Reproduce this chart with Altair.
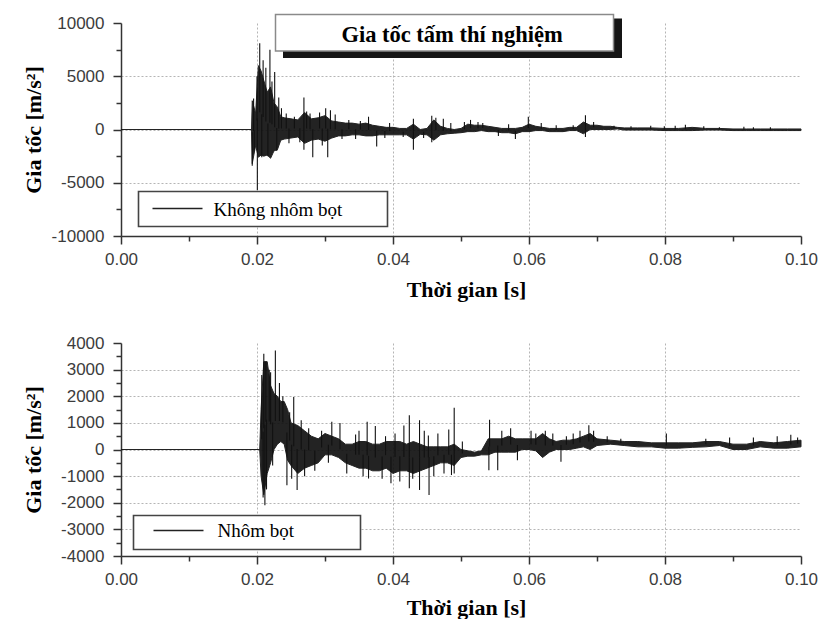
import altair as alt
import pandas as pd
import numpy as np

# ---------------- data ----------------
# Upper panel: "Không nhôm bọt" (envelope of the signal, time in ms, accel in m/s^2)
top_t_ms = [0, 19.2, 19.3, 19.8, 20.2, 20.6, 21.0, 21.5, 22.0, 22.5, 23.0, 23.5, 24.0, 25.0,
            26.0, 27.0, 28.0, 29.0, 30.0, 31.0, 32.0, 33.0, 34.0, 35.0, 36.0, 37.0, 38.0,
            39.0, 40.0, 41.0, 42.0, 43.0, 44.0, 45.0, 46.0, 47.0, 48.0, 49.0, 50.0, 51.0,
            52.0, 53.0, 54.0, 55.0, 56.0, 57.0, 58.0, 59.0, 60.0, 61.0, 62.0, 63.0, 64.0,
            65.0, 66.0, 67.0, 68.0, 69.0, 70.0, 71.0, 72.0, 73.0, 74.0, 76.0, 78.0, 80.0,
            82.0, 84.0, 86.0, 88.0, 90.0, 92.0, 94.0, 96.0, 98.0, 100.0]
top_hi = [0, 0, 2700, 1500, 6000, 5500, 4600, 3500, 4000, 2500, 2100, 1200, 1100, 1000,
          900, 1600, 1000, 1100, 1300, 800, 700, 600, 600, 500, 600, 400, 300,
          200, 200, 100, 100, 500, 0, 100, 900, 300, 100, 0, 100, 500,
          400, 400, 300, 200, 100, 100, 100, 200, 500, 300, 200, 100, 100,
          100, 200, 200, 700, 400, 400, 300, 300, 200, 150, 150, 150, 100,
          100, 200, 100, 100, 50, 50, 50, 50, 50, 50]
top_lo = [0, 0, -3200, -1500, -2600, -2400, -2500, -2400, -2700, -2000, -1900, -1000, -900, -800,
          -700, -1300, -1000, -900, -1100, -800, -600, -600, -500, -500, -600, -600, -500,
          -500, -500, -500, -500, -900, -450, -500, -1000, -500, -400, -350, -300, -200,
          -200, -100, -200, -200, -300, -300, -400, -200, -200, -100, -100, -200, -200,
          -200, -100, -100, -400, 0, 0, 0, 0, 50, -50, -50, -50, -100,
          -100, -100, -50, -50, -100, -100, -100, -100, -100, -100]
top_spike_t_ms = [19.3, 19.5, 19.6, 20.0, 20.05, 20.4, 20.7, 20.9, 21.3, 21.6, 21.9, 22.2,
                  22.6, 22.9, 23.2, 23.6, 24.3, 24.7, 25.5, 26.3, 26.9, 26.9, 27.3, 27.8,
                  28.2, 29.2, 29.6, 30.1, 30.4, 30.8, 31.5, 32.5, 33.5, 34.5, 35.2, 36.4,
                  37.6, 38.8, 39.5, 41.5, 43.0, 43.0, 44.5, 45.7, 45.7, 46.3, 47.4, 48.5,
                  50.5, 51.4, 52.5, 53.2, 55.5, 57.0, 58.0, 59.9, 61.8, 64.0, 66.5, 68.3,
                  68.3, 69.5, 72.5, 75.0, 77.9, 79.9, 81.5, 83.0, 85.7, 88.0, 91.6, 93.0,
                  95.5]
top_spike_v = [-3400, 2900, -2000, 5000, -5700, 8100, -2600, 6500, 5800, -2500, 7500, 4500,
               5400, -2000, 3000, 2000, 1500, -1300, 1200, -1200, 3000, -1900, 1700, 1500,
               -2600, 1600, -1500, 2000, -2600, 1800, 1400, -900, 900, -900, 800, 1200,
               -1600, -800, 600, -700, 1000, -1900, -800, 1300, -1200, 1100, 1000, 600,
               700, 900, 700, 600, -600, 500, -900, 1200, 600, 400, 400, 1340,
               -700, 700, 350, 300, 350, 300, 350, 450, 300, 200, 250, 200,
               200]

# Lower panel: "Nhôm bọt"
bot_t_ms = [0, 20.4, 20.6, 21.0, 21.5, 22.0, 22.5, 23.0, 23.5, 24.0, 24.5, 25.0, 26.0, 27.0,
            28.0, 29.0, 30.0, 31.0, 32.0, 33.0, 34.0, 35.0, 36.0, 37.0, 38.0, 39.0, 40.0,
            41.0, 42.0, 43.0, 44.0, 45.0, 46.0, 47.0, 48.0, 49.0, 50.0, 51.0, 52.0, 53.0,
            54.0, 55.0, 56.0, 57.0, 58.0, 59.0, 60.0, 61.0, 62.0, 63.0, 64.0, 65.0, 66.0,
            67.0, 68.0, 69.0, 70.0, 72.0, 74.0, 76.0, 78.0, 80.0, 82.0, 84.0, 86.0, 88.0,
            90.0, 92.0, 94.0, 96.0, 98.0, 100.0]
bot_hi = [0, 0, 1500, 3300, 3300, 2400, 2100, 2000, 1800, 1800, 1500, 1000, 900, 700,
          500, 400, 600, 500, 400, 200, 200, 300, 300, 200, 200, 300, 300,
          300, 200, 300, 200, 100, 100, 100, 100, 200, 0, -50, -100, -50,
          400, 400, 400, 500, 400, 400, 400, 400, 600, 400, 300, 350, 350,
          400, 500, 600, 400, 350, 300, 300, 250, 250, 250, 250, 300, 300,
          200, 200, 300, 250, 300, 350]
bot_lo = [0, 0, -1000, -1700, -900, -500, 0, 200, 300, 200, -400, -600, -900, -700,
          -600, -500, -200, -200, -300, -500, -600, -700, -700, -800, -800, -700, -900,
          -800, -800, -900, -800, -700, -600, -500, -500, -600, -300, -250, -250, -200,
          -200, -100, -100, -100, -100, 0, 0, -50, -300, -100, 0, 0, 0,
          50, 100, 0, 150, 200, 150, 100, 100, 50, 50, 80, 100, 150,
          0, 0, 100, 50, 50, 100]
bot_spike_t_ms = [20.7, 20.9, 21.0, 21.16, 21.3, 21.4, 21.8, 22.0, 22.3, 22.7, 23.3, 23.8,
                  24.4, 24.8, 25.1, 25.4, 25.9, 26.5, 27.0, 27.6, 28.5, 29.5, 30.5, 31.0,
                  32.2, 33.2, 34.5, 35.0, 35.6, 36.2, 36.4, 37.4, 38.4, 38.9, 39.7, 40.3,
                  41.0, 41.6, 42.4, 42.4, 42.9, 43.9, 43.9, 44.6, 45.2, 45.3, 46.0, 46.6,
                  47.5, 48.2, 48.6, 49.0, 49.0, 50.2, 54.1, 54.2, 55.4, 56.0, 57.3, 58.3,
                  60.3, 61.0, 62.4, 63.5, 64.7, 65.5, 66.5, 67.5, 68.8, 69.5, 71.5, 73.5,
                  80.2, 86.0, 89.5, 93.0, 96.5, 98.5, 99.5]
bot_spike_v = [2800, -1800, 3600, -2090, 3300, -1500, 3000, 2900, -600, 3720, 2500, 2000,
               -1340, 1400, -1100, 1970, -1520, 1100, -1000, 800, -800, 700, -500, 1040,
               1000, -900, 560, 700, -1000, 1040, -1090, 880, -1100, 500, -1270, 600,
               -1200, 900, 1290, -1460, -1100, 1100, -1520, 700, 530, -1710, -1000, 600,
               -900, 750, -960, 1570, -900, 300, -780, 1120, -780, 700, 800, -400,
               700, 600, 700, 600, -460, 500, 600, 700, 910, 700, 500, 400,
               600, 400, 450, 450, 500, 550, 450]

x_ticks = [0, 0.01, 0.02, 0.03, 0.04, 0.05, 0.06, 0.07, 0.08, 0.09, 0.10]
top_y_ticks = list(range(-10000, 10001, 2500))
bot_y_ticks = list(range(-4000, 4001, 500))

title_text = "Gia tốc tấm thí nghiệm"
x_title = "Thời gian [s]"
y_title = "Gia tốc [m/s²]"
top_legend = "Không nhôm bọt"
bot_legend = "Nhôm bọt"

# ---------------- styling ----------------
W, H = 680, 213
AX = "#333333"
LAB = "#3c3c3c"
SIG = "#111111"


def band_df(t_ms, hi, lo):
    return pd.DataFrame({"t": np.array(t_ms) / 1000.0, "hi": hi, "lo": lo})


def spike_df(st_ms, sv, t_ms, hi, lo):
    mid = (np.array(hi) + np.array(lo)) / 2.0
    base = np.interp(st_ms, t_ms, mid)
    return pd.DataFrame({"t": np.array(st_ms) / 1000.0, "hi": sv, "lo": base})


def x_axis(title_y):
    return alt.Axis(
        values=x_ticks,
        labelExpr="round(datum.value*100) % 2 == 0 ? format(datum.value, '.2f') : ''",
        title=x_title, titleFont="Liberation Serif", titleFontSize=22, titleFontWeight="bold",
        titleColor="#000", titleX=345, titleY=title_y, titleBaseline="alphabetic",
        titleAlign="center",
        labelFont="Liberation Sans", labelFontSize=17, labelColor=LAB, labelPadding=7,
        labelFlush=False, labelOverlap=False, labelBound=False,
        domainColor=AX, domainWidth=1.5, tickColor=AX, tickWidth=1.5,
        tickSize={"condition": {"test": "round(datum.value*100) % 2 == 1", "value": 5}, "value": 8},
        grid=True, gridColor="#b5b5b5", gridDash=[2, 2], gridWidth=1,
        gridOpacity={"condition": {"test": "round(datum.value*100) % 2 == 1 || datum.value < 0.005 || datum.value > 0.095", "value": 0}, "value": 1},
    )


def y_axis(ticks, major, extreme):
    return alt.Axis(
        values=ticks,
        labelExpr=f"datum.value % {major} == 0 ? '' + datum.value : ''",
        title=y_title, titleFont="Liberation Serif", titleFontSize=22, titleFontWeight="bold",
        titleColor="#000", titleX=-88, titleY=H / 2, titleAngle=270, titleBaseline="middle",
        titleAlign="center",
        labelFont="Liberation Sans", labelFontSize=17, labelColor=LAB, labelPadding=9,
        labelOverlap=False, labelBound=False, labelFlush=False,
        domainColor=AX, domainWidth=1.5, tickColor=AX, tickWidth=1.5,
        tickSize={"condition": {"test": f"datum.value % {major} != 0", "value": 5}, "value": 8},
        grid=True, gridColor="#b5b5b5", gridDash=[2, 2], gridWidth=1,
        gridOpacity={"condition": {"test": f"datum.value % {major} != 0 || abs(datum.value) >= {extreme}", "value": 0}, "value": 1},
    )


one = pd.DataFrame({"k": [0]})


def panel(t_ms, hi, lo, st, sv, ydom, yticks, major, title_y, legend_text, leg, with_title):
    xs = alt.Scale(domain=[0, 0.1], nice=False, zero=False)
    ys = alt.Scale(domain=ydom, nice=False, zero=False)
    xenc = alt.X("t:Q", scale=xs, axis=x_axis(title_y))
    yenc = alt.Y("hi:Q", scale=ys, axis=y_axis(yticks, major, ydom[1]))
    band = alt.Chart(band_df(t_ms, hi, lo)).mark_area(
        fill=SIG, stroke=SIG, strokeWidth=1, opacity=0.92
    ).encode(x=xenc, y=yenc, y2="lo:Q")
    spikes = alt.Chart(spike_df(st, sv, t_ms, hi, lo)).mark_rule(
        color=SIG, strokeWidth=1.1
    ).encode(x=xenc, y=yenc, y2="lo:Q")

    bx0, bx1, by0, by1, lx0, lx1, ly, tx, ty = leg
    legend_box = alt.Chart(one).mark_rect(fill="white", stroke="#444", strokeWidth=1.6).encode(
        x=alt.value(bx0), x2=alt.value(bx1), y=alt.value(by0), y2=alt.value(by1))
    legend_line = alt.Chart(one).mark_rule(color="#222", strokeWidth=1.4).encode(
        x=alt.value(lx0), x2=alt.value(lx1), y=alt.value(ly))
    legend_lbl = alt.Chart(one).mark_text(
        align="left", baseline="alphabetic", font="Liberation Serif", fontSize=19, color="#000"
    ).encode(x=alt.value(tx), y=alt.value(ty), text=alt.value(legend_text))

    layers = [band, spikes, legend_box, legend_line, legend_lbl]
    if with_title:
        anchor = alt.Chart(one).mark_rect(fill="white", opacity=0).encode(
            x=alt.value(-121), x2=alt.value(-120), y=alt.value(-22.5), y2=alt.value(-21.5))
        shadow = alt.Chart(one).mark_rect(fill="#151515").encode(
            x=alt.value(162), x2=alt.value(501), y=alt.value(-4.5), y2=alt.value(35))
        box = alt.Chart(one).mark_rect(fill="white", stroke="#8a8a8a", strokeWidth=1.5).encode(
            x=alt.value(154.5), x2=alt.value(492.5), y=alt.value(-8.5), y2=alt.value(28))
        ttl = alt.Chart(one).mark_text(
            align="center", baseline="alphabetic", font="Liberation Serif", fontSize=22.5,
            fontWeight="bold", color="#000"
        ).encode(x=alt.value(331), y=alt.value(18.5), text=alt.value(title_text))
        layers = [anchor] + layers + [shadow, box, ttl]
    return alt.layer(*layers).properties(width=W, height=H)


top = panel(top_t_ms, top_hi, top_lo, top_spike_t_ms, top_spike_v, [-10000, 10000],
            top_y_ticks, 5000, 60, top_legend,
            (17.5, 266.5, 168.5, 203.5, 31.5, 81.5, 185.5, 92.5, 192.5), True)
bottom = panel(bot_t_ms, bot_hi, bot_lo, bot_spike_t_ms, bot_spike_v, [-4000, 4000],
               bot_y_ticks, 1000, 58, bot_legend,
               (12.5, 239.5, 172.5, 206.5, 32.5, 82.5, 187.5, 96.5, 194), False)

chart = alt.vconcat(top, bottom, spacing=107, bounds="flush").properties(
    padding={"left": 0, "top": 0, "right": 5, "bottom": 5},
    background="white",
).configure_view(stroke=None).configure_axis(labelOverlap=False)

chart.save("out.html", embed_options={"renderer": "svg", "actions": False})
